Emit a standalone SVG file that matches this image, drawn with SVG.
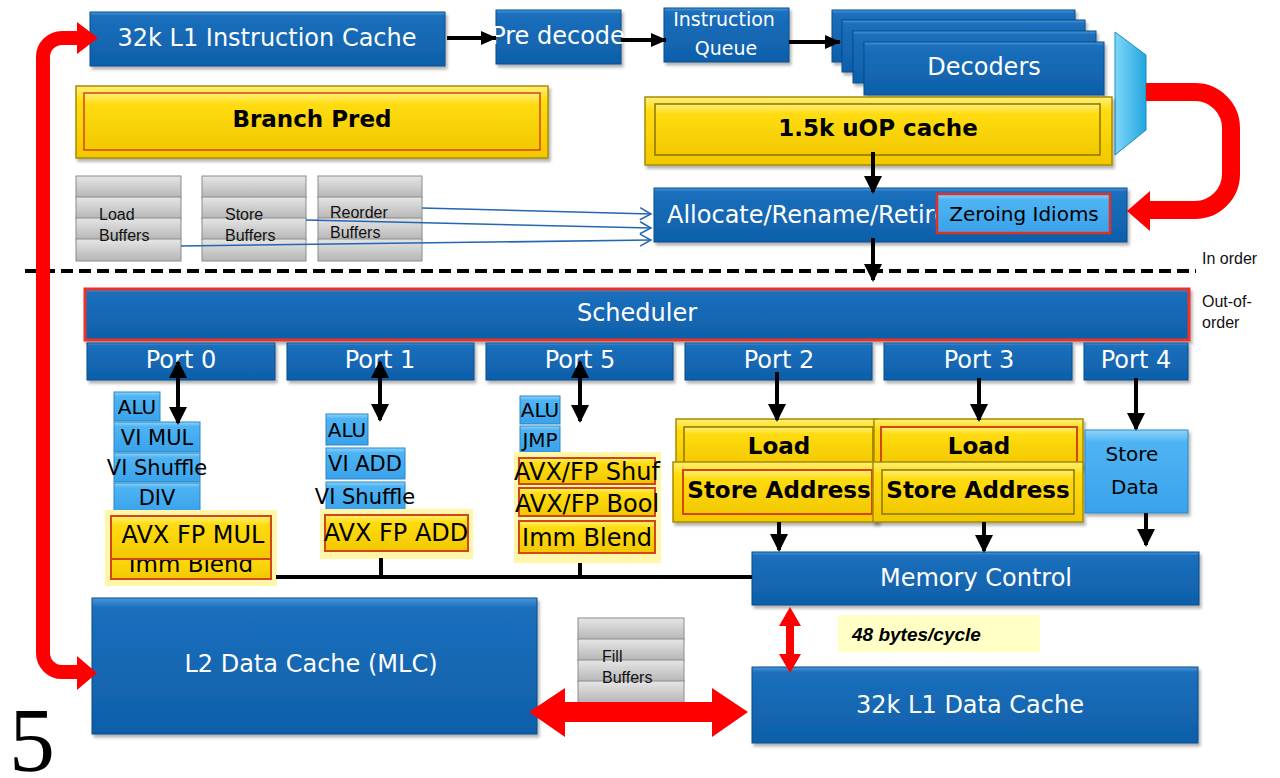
<svg xmlns="http://www.w3.org/2000/svg" width="1280" height="778" viewBox="0 0 1280 778">
  <defs>
    <linearGradient id="gBlue" x1="0" y1="0" x2="0" y2="1">
      <stop offset="0" stop-color="#4a98dc"/>
      <stop offset="0.07" stop-color="#1b6fbc"/>
      <stop offset="1" stop-color="#0e5fa9"/>
    </linearGradient>
    <linearGradient id="gLt" x1="0" y1="0" x2="0" y2="1">
      <stop offset="0" stop-color="#8fd4fb"/>
      <stop offset="0.15" stop-color="#4eb4f4"/>
      <stop offset="1" stop-color="#3aa2ea"/>
    </linearGradient>
    <linearGradient id="gYel" x1="0" y1="0" x2="0" y2="1">
      <stop offset="0" stop-color="#fff07a"/>
      <stop offset="0.2" stop-color="#ffdc10"/>
      <stop offset="1" stop-color="#f2c800"/>
    </linearGradient>
    <linearGradient id="gGray" x1="0" y1="0" x2="0" y2="1">
      <stop offset="0" stop-color="#e6e6e6"/>
      <stop offset="1" stop-color="#b5b5b5"/>
    </linearGradient>
    <linearGradient id="gMux" x1="0" y1="0" x2="1" y2="0">
      <stop offset="0" stop-color="#7fd8f8"/>
      <stop offset="1" stop-color="#22a6e0"/>
    </linearGradient>
    <filter id="sh" x="-5%" y="-10%" width="115%" height="130%">
      <feDropShadow dx="2" dy="3" stdDeviation="1.8" flood-color="#000" flood-opacity="0.3"/>
    </filter>
    <marker id="ah" markerUnits="userSpaceOnUse" markerWidth="18" markerHeight="18" viewBox="0 0 18 18" refX="16" refY="9" orient="auto-start-reverse">
      <path d="M0,0 L18,9 L0,18 z" fill="#000"/>
    </marker>
    <marker id="ahs" markerUnits="userSpaceOnUse" markerWidth="16" markerHeight="14" viewBox="0 0 16 14" refX="15" refY="7" orient="auto">
      <path d="M0,0 L16,7 L0,14 z" fill="#000"/>
    </marker>
    <marker id="chev" markerUnits="userSpaceOnUse" markerWidth="14" markerHeight="14" viewBox="0 0 14 14" refX="12" refY="7" orient="auto">
      <path d="M1,1 L12,7 L1,13" fill="none" stroke="#2466b0" stroke-width="1.5"/>
    </marker>
    <style>
      .blue{fill:url(#gBlue);stroke:#0a4c8a;stroke-width:1;filter:url(#sh)}
      .lt{fill:url(#gLt);stroke:#2b86c8;stroke-width:1}
      .yel{fill:url(#gYel);stroke:#a88a00;stroke-width:1.5;filter:url(#sh)}
      .yin{fill:url(#gYel);stroke:#8a7400;stroke-width:1.5}
      .yred{fill:url(#gYel);stroke:#d2461c;stroke-width:2}
      .glow{fill:#fff6a8}
      .gray{fill:url(#gGray);stroke:#8c8c8c;stroke-width:1}
      .wt{font-family:"DejaVu Sans",Verdana,sans-serif;fill:#fff;font-size:24px;text-anchor:middle}
      .bk{font-family:"DejaVu Sans",Verdana,sans-serif;fill:#000;text-anchor:middle}
      .bb{font-family:"DejaVu Sans",Verdana,sans-serif;fill:#000;font-weight:bold;font-size:23px;text-anchor:middle}
      .ar{font-family:"Liberation Sans",Arial,sans-serif;fill:#111;font-size:16px}
      .arr{stroke:#000;stroke-width:4;fill:none;marker-end:url(#ah)}
      .arr2{stroke:#000;stroke-width:4;fill:none;marker-end:url(#ah);marker-start:url(#ah)}
      .thin{stroke:#2466b0;stroke-width:1.6;fill:none;marker-end:url(#chev)}
      .red{fill:#ff0000}
      .redl{stroke:#ff0000;fill:none}
    </style>
  </defs>

  <rect width="1280" height="778" fill="#fff"/>

  <!-- front end -->
  <g id="l1i">
    <rect class="blue" x="90" y="12" width="355" height="54"/>
    <text class="wt" x="267" y="46">32k L1 Instruction Cache</text>
  </g>
  <g id="predecode">
    <rect class="blue" x="496" y="10" width="125" height="54"/>
    <text class="wt" x="558" y="44">Pre decode</text>
  </g>
  <g id="iq">
    <rect class="blue" x="664" y="8" width="125" height="54"/>
    <text class="wt" x="724" y="26" style="font-size:19px">Instruction</text>
    <text class="wt" x="726" y="55" style="font-size:19px">Queue</text>
  </g>
  <g id="decoders">
    <rect class="blue" x="832" y="10" width="243" height="52"/>
    <rect class="blue" x="842" y="20" width="243" height="52"/>
    <rect class="blue" x="853" y="31" width="243" height="52"/>
    <rect class="blue" x="864" y="42" width="240" height="53"/>
    <text class="wt" x="984" y="75">Decoders</text>
  </g>
  <g id="mux">
    <polygon points="1115,32 1146,55 1146,130 1115,155" fill="url(#gMux)" stroke="#1a8cc4" stroke-width="1"/>
  </g>
  <g id="uop">
    <rect class="yel" x="645" y="97" width="467" height="68"/>
    <rect class="yin" x="655" y="104" width="445" height="51"/>
    <text class="bb" x="878" y="136">1.5k uOP cache</text>
  </g>
  <g id="bpred">
    <rect class="yel" x="76" y="86" width="472" height="72"/>
    <rect class="yred" x="84" y="93" width="456" height="57" style="stroke-width:1.5"/>
    <text class="bb" x="312" y="127">Branch Pred</text>
  </g>

  <!-- buffers -->
  <g id="loadbuf">
    <rect class="gray" x="76" y="176" width="105" height="22"/>
    <rect class="gray" x="76" y="197" width="105" height="22"/>
    <rect class="gray" x="76" y="218" width="105" height="22"/>
    <rect class="gray" x="76" y="239" width="105" height="22"/>
    <text class="ar" x="99" y="220">Load</text>
    <text class="ar" x="99" y="241">Buffers</text>
  </g>
  <g id="storebuf">
    <rect class="gray" x="202" y="176" width="104" height="22"/>
    <rect class="gray" x="202" y="197" width="104" height="22"/>
    <rect class="gray" x="202" y="218" width="104" height="22"/>
    <rect class="gray" x="202" y="239" width="104" height="22"/>
    <text class="ar" x="225" y="220">Store</text>
    <text class="ar" x="225" y="241">Buffers</text>
  </g>
  <g id="robuf">
    <rect class="gray" x="318" y="176" width="104" height="22"/>
    <rect class="gray" x="318" y="197" width="104" height="22"/>
    <rect class="gray" x="318" y="218" width="104" height="22"/>
    <rect class="gray" x="318" y="239" width="104" height="22"/>
    <text class="ar" x="330" y="218">Reorder</text>
    <text class="ar" x="330" y="238">Buffers</text>
  </g>

  <g id="alloc">
    <rect class="blue" x="654" y="188" width="473" height="54"/>
    <text class="wt" x="667" y="223" style="text-anchor:start">Allocate/Rename/Retire</text>
    <rect x="937" y="194" width="173" height="39" fill="url(#gLt)" stroke="#e0302a" stroke-width="2.5"/>
    <text class="bk" x="1024" y="221" style="font-size:20px">Zeroing Idioms</text>
  </g>

  <!-- boundary between in-order and out-of-order -->
  <g id="boundary">
    <line x1="25" y1="271" x2="1196" y2="271" stroke="#000" stroke-width="4" stroke-dasharray="12,6"/>
    <text class="ar" x="1202" y="264" style="font-size:16px">In order</text>
    <text class="ar" x="1202" y="307" style="font-size:16px">Out-of-</text>
    <text class="ar" x="1202" y="328" style="font-size:16px">order</text>
  </g>

  <!-- out-of-order engine -->
  <g id="scheduler">
    <rect class="blue" x="85" y="289" width="1104" height="51" style="stroke:#e8322a;stroke-width:3"/>
    <text class="wt" x="637" y="321">Scheduler</text>
  </g>
  <g id="port0"><rect class="blue" x="87" y="343" width="188" height="37"/><text class="wt" x="181" y="368">Port 0</text></g>
  <g id="port1"><rect class="blue" x="287" y="343" width="187" height="37"/><text class="wt" x="380" y="368">Port 1</text></g>
  <g id="port5"><rect class="blue" x="486" y="343" width="187" height="37"/><text class="wt" x="580" y="368">Port 5</text></g>
  <g id="port2"><rect class="blue" x="685" y="343" width="187" height="37"/><text class="wt" x="779" y="368">Port 2</text></g>
  <g id="port3"><rect class="blue" x="884" y="343" width="188" height="37"/><text class="wt" x="979" y="368">Port 3</text></g>
  <g id="port4"><rect class="blue" x="1084" y="343" width="104" height="37"/><text class="wt" x="1136" y="368">Port 4</text></g>

  <!-- port 0 execution units -->
  <g id="p0units">
    <rect class="lt" x="114" y="392" width="46" height="29"/>
    <text class="bk" x="137" y="414" style="font-size:20px">ALU</text>
    <rect class="lt" x="114" y="422" width="86" height="30"/>
    <text class="bk" x="157" y="445" style="font-size:21px">VI MUL</text>
    <rect class="lt" x="114" y="453" width="86" height="29"/>
    <text class="bk" x="157" y="475" style="font-size:21px">VI Shuffle</text>
    <rect class="lt" x="114" y="483" width="86" height="29"/>
    <text class="bk" x="157" y="505" style="font-size:21px">DIV</text>
    <rect class="glow" x="105" y="510" width="172" height="76"/>
    <rect class="yred" x="111" y="550" width="160" height="29"/>
    <text class="bk" x="191" y="572" style="font-size:23px">Imm Blend</text>
    <rect class="yred" x="111" y="516" width="160" height="43"/>
    <text class="bk" x="193" y="543" style="font-size:24px">AVX FP MUL</text>
  </g>

  <!-- port 1 execution units -->
  <g id="p1units">
    <rect class="lt" x="326" y="414" width="42" height="31"/>
    <text class="bk" x="347" y="437" style="font-size:20px">ALU</text>
    <rect class="lt" x="326" y="448" width="79" height="31"/>
    <text class="bk" x="365" y="471" style="font-size:21px">VI ADD</text>
    <rect class="lt" x="326" y="482" width="79" height="29"/>
    <text class="bk" x="365" y="504" style="font-size:21px">VI Shuffle</text>
    <rect class="glow" x="320" y="509" width="153" height="50"/>
    <rect class="yred" x="325" y="515" width="143" height="36"/>
    <text class="bk" x="396" y="541" style="font-size:24px">AVX FP ADD</text>
  </g>

  <!-- port 5 execution units -->
  <g id="p5units">
    <rect class="lt" x="520" y="396" width="40" height="28"/>
    <text class="bk" x="540" y="417" style="font-size:20px">ALU</text>
    <rect class="lt" x="520" y="426" width="40" height="26"/>
    <text class="bk" x="540" y="447" style="font-size:20px">JMP</text>
    <rect class="glow" x="514" y="452" width="147" height="111"/>
    <rect class="yred" x="519" y="458" width="136" height="26"/>
    <text class="bk" x="587" y="480" style="font-size:24px">AVX/FP Shuf</text>
    <rect class="yred" x="519" y="488" width="136" height="28"/>
    <text class="bk" x="587" y="512" style="font-size:24px">AVX/FP Bool</text>
    <rect class="yred" x="519" y="521" width="136" height="32"/>
    <text class="bk" x="587" y="546" style="font-size:24px">Imm Blend</text>
  </g>

  <!-- load / store address units -->
  <g id="p2units">
    <rect class="yel" x="676" y="419" width="202" height="50"/>
    <rect class="yin" x="684" y="427" width="189" height="37"/>
    <text class="bb" x="779" y="454">Load</text>
    <rect class="yel" x="673" y="462" width="205" height="60"/>
    <rect class="yred" x="683" y="470" width="189" height="44"/>
    <text class="bb" x="779" y="498">Store Address</text>
  </g>
  <g id="p3units">
    <rect class="yel" x="874" y="419" width="209" height="50"/>
    <rect class="yred" x="881" y="427" width="196" height="37"/>
    <text class="bb" x="979" y="454">Load</text>
    <rect class="yel" x="873" y="462" width="210" height="60"/>
    <rect class="yin" x="882" y="470" width="192" height="44"/>
    <text class="bb" x="978" y="498">Store Address</text>
  </g>
  <g id="storedata">
    <rect class="lt" x="1085" y="430" width="103" height="83" style="filter:url(#sh)"/>
    <text class="bk" x="1132" y="461" style="font-size:20px">Store</text>
    <text class="bk" x="1135" y="494" style="font-size:20px">Data</text>
  </g>

  <g id="memctl">
    <rect class="blue" x="752" y="552" width="447" height="53"/>
    <text class="wt" x="976" y="586">Memory Control</text>
  </g>
  <g id="rate">
    <rect x="838" y="615" width="202" height="37" fill="#ffffc6"/>
    <text x="852" y="641" style="font-family:'Liberation Sans',Arial,sans-serif;font-weight:bold;font-style:italic;font-size:19px" fill="#000">48 bytes/cycle</text>
  </g>
  <g id="l2">
    <rect class="blue" x="92" y="598" width="445" height="136"/>
    <text class="wt" x="311" y="672">L2 Data Cache (MLC)</text>
  </g>
  <g id="fillbuf">
    <rect class="gray" x="578" y="618" width="106" height="22"/>
    <rect class="gray" x="578" y="639" width="106" height="22"/>
    <rect class="gray" x="578" y="660" width="106" height="22"/>
    <rect class="gray" x="578" y="681" width="106" height="22"/>
    <text class="ar" x="602" y="662">Fill</text>
    <text class="ar" x="602" y="683">Buffers</text>
  </g>
  <g id="l1d">
    <rect class="blue" x="752" y="667" width="446" height="76"/>
    <text class="wt" x="970" y="713">32k L1 Data Cache</text>
  </g>

  <text x="9" y="771" style="font-family:'Liberation Serif','Times New Roman',serif;font-size:92px" fill="#000">5</text>

  <!-- connectors -->
  <g id="connectors">
    <line class="arr" x1="447" y1="38" x2="496" y2="38" style="marker-end:url(#ahs)"/>
    <line class="arr" x1="621" y1="40" x2="666" y2="40" style="marker-end:url(#ahs)"/>
    <line class="arr" x1="789" y1="42" x2="840" y2="42" style="marker-end:url(#ahs)"/>
    <line class="arr" x1="873" y1="152" x2="873" y2="192"/>
    <line class="arr" x1="873" y1="238" x2="873" y2="280"/>

    <line class="thin" x1="422" y1="208" x2="651" y2="214"/>
    <line class="thin" x1="306" y1="220" x2="651" y2="228"/>
    <line class="thin" x1="181" y1="246" x2="651" y2="240"/>

    <line class="arr2" x1="178" y1="362" x2="178" y2="423"/>
    <line class="arr2" x1="380" y1="362" x2="380" y2="420"/>
    <line class="arr2" x1="580" y1="362" x2="580" y2="421"/>
    <line class="arr" x1="777" y1="372" x2="777" y2="420"/>
    <line class="arr" x1="979" y1="378" x2="979" y2="420"/>
    <line class="arr" x1="1136" y1="378" x2="1136" y2="429"/>
    <line class="arr" x1="779" y1="522" x2="779" y2="550"/>
    <line class="arr" x1="984" y1="522" x2="984" y2="551"/>
    <line class="arr" x1="1146" y1="513" x2="1146" y2="545"/>

    <!-- result bus into memory control -->
    <path d="M276,577 H752 M381,558 V577 M580,563 V577" stroke="#000" stroke-width="4" fill="none"/>

    <!-- decoder output loop into zeroing idioms -->
    <path class="redl" d="M1146,92 H1195 A36,36 0 0 1 1231,128 V174 A36,36 0 0 1 1195,210 H1146" stroke-width="18"/>
    <polygon class="red" points="1150,191 1127,211 1150,231"/>

    <!-- L2 to instruction cache -->
    <path class="redl" d="M80,38 H62 A19,19 0 0 0 43,57 V653 A19,19 0 0 0 62,672 H80" stroke-width="14"/>
    <polygon class="red" points="77,22 98,38 77,54"/>
    <polygon class="red" points="77,656 97,673 77,690"/>

    <!-- L1D <-> memory control -->
    <polygon class="red" points="790,607 801,626 794,626 794,654 801,654 790,673 779,654 786,654 786,626 779,626"/>

    <!-- L2 <-> L1D -->
    <polygon class="red" points="529,712 565,688 565,702 712,702 712,688 748,712 712,737 712,722 565,722 565,737"/>
  </g>
</svg>
